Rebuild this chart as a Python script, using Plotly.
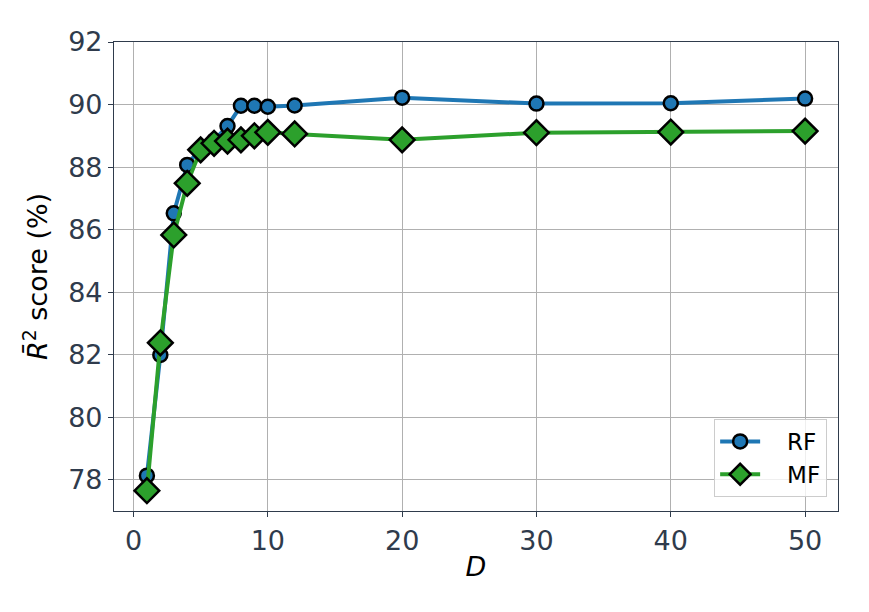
import plotly.graph_objects as go

D = [1, 2, 3, 4, 5, 6, 7, 8, 9, 10, 12, 20, 30, 40, 50]
rf = [78.13, 81.99, 86.52, 88.07, 88.6, 88.85, 89.31, 89.96, 89.96, 89.93, 89.97, 90.22, 90.03, 90.04, 90.19]
mf = [77.65, 82.38, 85.83, 87.48, 88.55, 88.76, 88.83, 88.87, 89.0, 89.11, 89.06, 88.87, 89.1, 89.12, 89.15]
yticks = [78, 80, 82, 84, 86, 88, 90, 92]
xticks = [0, 10, 20, 30, 40, 50]

fig = go.Figure()
fig.add_trace(go.Scatter(
    x=D, y=rf, mode="lines+markers", name="\u00a0\u00a0\u00a0RF",
    line=dict(color="#1f77b4", width=4),
    marker=dict(symbol="circle", size=14, color="#1f77b4", line=dict(color="black", width=2.5)),
))
fig.add_trace(go.Scatter(
    x=D, y=mf, mode="lines+markers", name="\u00a0\u00a0\u00a0MF",
    line=dict(color="#2ca02c", width=4),
    marker=dict(symbol="diamond", size=19, color="#2ca02c", line=dict(color="black", width=2.5)),
))

axis_common = dict(
    showgrid=True, gridcolor="#b0b0b0", gridwidth=1,
    showline=True, linecolor="#2f3b4c", linewidth=1.2, mirror=True,
    ticks="outside", ticklen=5, tickcolor="#2f3b4c",
    tickfont=dict(family="DejaVu Sans", size=27, color="#2f3b4c"),
    zeroline=False,
)

fig.update_layout(
    width=869, height=612,
    margin=dict(l=106, r=39, t=34, b=109),
    paper_bgcolor="white", plot_bgcolor="white",
    font=dict(family="DejaVu Sans", color="black"),
    xaxis=dict(range=[-1.45, 52.45], tickvals=xticks,
               title=dict(text="<i>D</i>", font=dict(size=27, color="black"), standoff=2),
               **axis_common),
    yaxis=dict(range=[77.0, 92.0], tickvals=yticks,
               title=dict(text="<i>R\u0304</i><sup>2</sup> score (%)", font=dict(size=27, color="black"), standoff=12),
               **axis_common),
    legend=dict(x=0.985, y=0.03, xanchor="right", yanchor="bottom",
                bgcolor="rgba(255,255,255,0.8)", bordercolor="#cccccc", borderwidth=1,
                font=dict(size=23, color="black"), itemwidth=40, tracegroupgap=4),
    showlegend=True,
)

fig.write_html("out.html")
